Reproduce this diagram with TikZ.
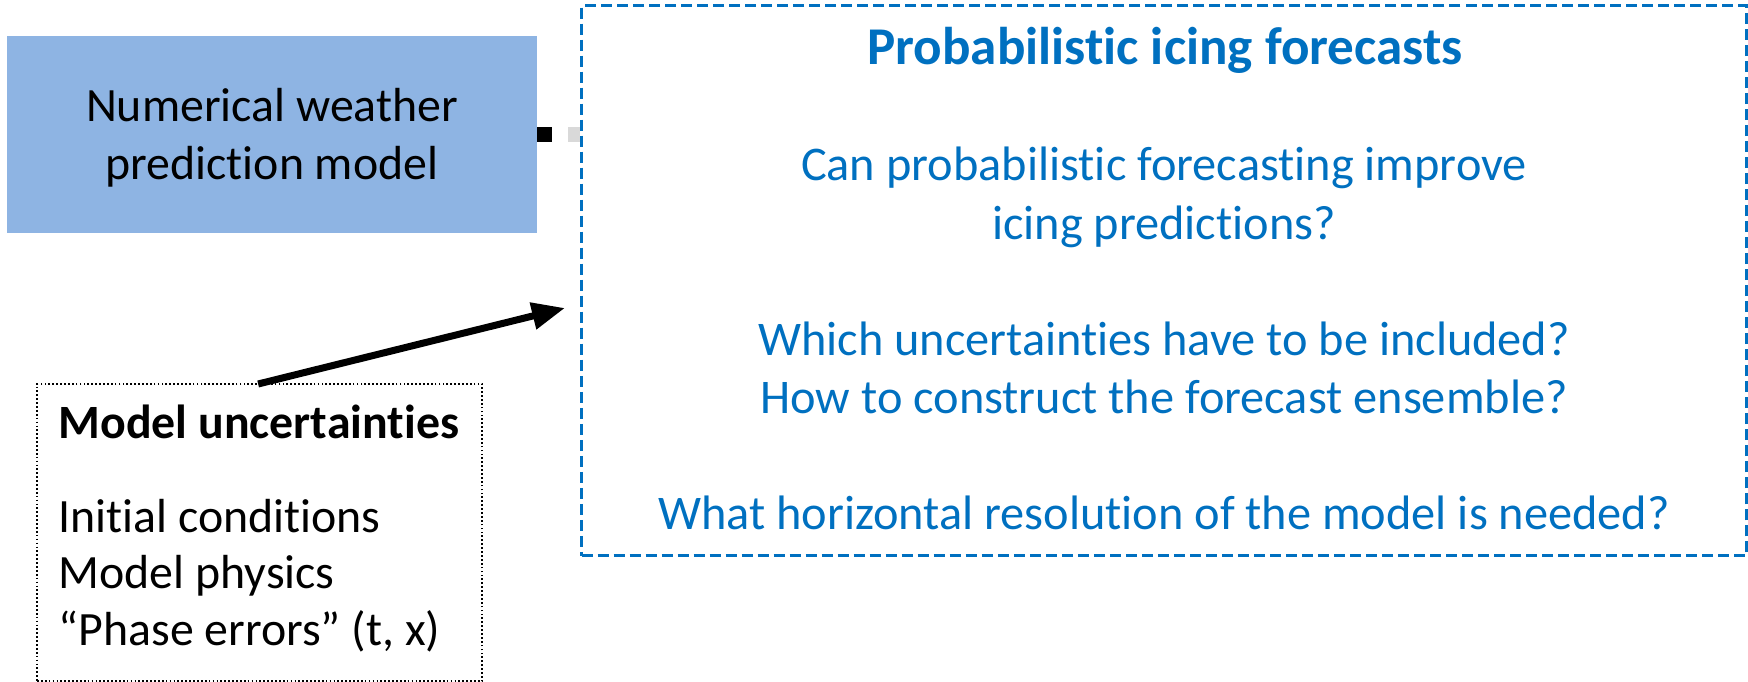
\documentclass[tikz,border=0pt]{standalone}
\usepackage{fontspec}
\setmainfont{Carlito}[Ligatures=NoCommon]
\usetikzlibrary{arrows.meta}
\definecolor{nwpblue}{RGB}{142,180,227}
\definecolor{darkblue}{RGB}{0,112,192}
\definecolor{sqgray}{RGB}{217,217,217}
\begin{document}
\begin{tikzpicture}[x=0.01cm,y=-0.01cm,
  boxbase/.style={inner sep=0pt, outer sep=0pt, anchor=north west},
  nwpbox/.style={boxbase, fill=nwpblue, minimum width=5.30cm, minimum height=1.97cm},
  probbox/.style={boxbase, draw=darkblue, line width=0.03cm, dash pattern=on 0.11cm off 0.05cm, minimum width=11.645cm, minimum height=5.495cm},
  unbox/.style={boxbase, draw=black, line width=0.017cm, dash pattern=on 0.017cm off 0.022cm, minimum width=4.45cm, minimum height=2.97cm},
  txt/.style={anchor=base, inner sep=0pt, font=\fontsize{13.6}{16}\selectfont},
  bluetxt/.style={txt, text=darkblue, font=\fontsize{13.75}{16}\selectfont},
  lefttxt/.style={txt, anchor=base west},
  bigarrow/.style={line width=0.07cm, -{Triangle[length=0.33cm, width=0.26cm]}},
]
\useasboundingbox (0,0) rectangle (1748,682);
% boxes
\node[nwpbox] (nwp) at (7,36) {};
\node[probbox] (prob) at (581.5,6) {};
\node[unbox] (mu) at (37,384) {};
% NWP text
\node[txt] (nwp1) at (272,122) {Numerical weather};
\node[txt] (nwp2) at (272,180) {prediction model};
% probabilistic texts
\node[bluetxt, font=\fontsize{15.1}{18}\selectfont\bfseries] (ptitle) at (1165,65) {Probabilistic icing forecasts};
\node[bluetxt] (q1a) at (1164,181) {Can probabilistic forecasting improve};
\node[bluetxt] (q1b) at (1164,239) {icing predictions?};
\node[bluetxt] (q2a) at (1164,355) {Which uncertainties have to be included?};
\node[bluetxt] (q2b) at (1164,413) {How to construct the forecast ensemble?};
\node[bluetxt] (q3) at (1164,529) {What horizontal resolution of the model is needed?};
% model uncertainties texts
\node[lefttxt, font=\fontsize{13.6}{16}\selectfont\bfseries] (mut) at (58,438) {Model uncertainties};
\node[lefttxt] (mu1) at (58,532) {Initial conditions};
\node[lefttxt] (mu2) at (58,588) {Model physics};
\node[lefttxt] (mu3) at (58,645) {“Phase errors” (t, x)};
% connector between NWP and forecast box
\draw[line width=0.15cm, black] (nwp.east) -- ++(15,0);
\draw[line width=0.15cm, sqgray] (prob.west |- nwp.east) ++(-1.5,0) -- ++(-12,0);
% arrow
\coordinate (arrstart) at ([xshift=2.21cm]mu.north west);
\coordinate (arrtip) at (565,308);
\draw[bigarrow] (arrstart) -- (arrtip);
\end{tikzpicture}
\end{document}
